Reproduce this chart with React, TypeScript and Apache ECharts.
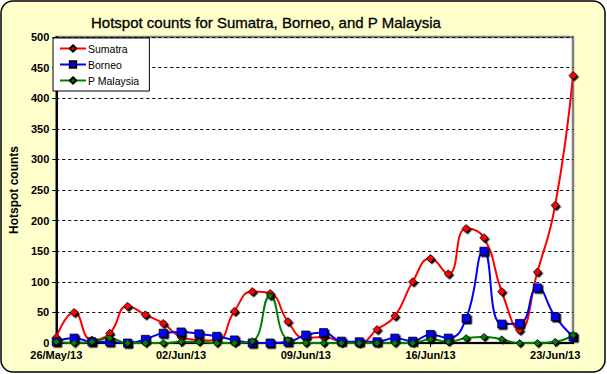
import React, { useEffect, useRef } from "react";
import * as echarts from "echarts";

const dates = [
  "26/May/13", "27/May/13", "28/May/13", "29/May/13", "30/May/13", "31/May/13",
  "01/Jun/13", "02/Jun/13", "03/Jun/13", "04/Jun/13", "05/Jun/13", "06/Jun/13",
  "07/Jun/13", "08/Jun/13", "09/Jun/13", "10/Jun/13", "11/Jun/13", "12/Jun/13",
  "13/Jun/13", "14/Jun/13", "15/Jun/13", "16/Jun/13", "17/Jun/13", "18/Jun/13",
  "19/Jun/13", "20/Jun/13", "21/Jun/13", "22/Jun/13", "23/Jun/13", "24/Jun/13",
];

const sumatra = [9, 50, 5, 16, 60, 46, 32, 10, 5, 4, 52, 84, 81, 35, 8, 10, 2, 0, 22, 44, 100, 138, 113, 187, 172, 84, 21, 116, 225, 437];
const borneo = [2, 8, 2, 2, 0, 6, 16, 18, 15, 11, 5, 0, 0, 2, 13, 17, 3, 2, 2, 8, 3, 14, 8, 40, 150, 31, 32, 90, 43, 10];
const pMalaysia = [2, 0, 2, 8, 0, 0, 0, 2, 2, 0, 0, 3, 77, 5, 0, 0, 0, 0, 0, 0, 0, 6, 2, 8, 10, 6, 0, 0, 2, 13];

const FONT = "Arial, 'Liberation Sans', sans-serif";

export default function App() {
  const ref = useRef<HTMLDivElement>(null);

  useEffect(() => {
    document.body.style.margin = "0";
    if (!ref.current) return;
    const chart = echarts.init(ref.current, null, { renderer: "svg" });
    const mk = (name: string, data: number[], color: string, symbol: string, size: number) => ({
      name,
      type: "line",
      data,
      smooth: 0.5,
      symbol,
      symbolSize: size,
      showSymbol: true,
      lineStyle: { color, width: 2 },
      itemStyle: {
        color,
        borderColor: "#000",
        borderWidth: 0.8,
        shadowColor: "#000",
        shadowBlur: 0,
        shadowOffsetX: 1.5,
        shadowOffsetY: 1.5,
      },
      emphasis: { disabled: true },
    });
    chart.setOption({
      animation: false,
      backgroundColor: "transparent",
      graphic: [
        {
          type: "rect",
          z: -100,
          shape: { x: 1, y: 1, width: 604, height: 371, r: 12 },
          style: { fill: "#FFFFCC", stroke: "#000", lineWidth: 1.5 },
        },
      ],
      title: {
        text: "Hotspot counts for Sumatra, Borneo, and P Malaysia",
        left: 86,
        top: 10,
        textStyle: { fontFamily: FONT, fontSize: 15, fontWeight: "normal", color: "#000", textBorderColor: "#000", textBorderWidth: 0.3 },
      },
      legend: {
        orient: "vertical",
        left: 53,
        top: 38,
        width: 94,
        itemWidth: 26,
        itemHeight: 8,
        itemGap: 5,
        padding: [5, 10, 5, 6],
        backgroundColor: "#fff",
        borderColor: "#000",
        borderWidth: 1,
        borderRadius: 0,
        textStyle: { fontFamily: FONT, fontSize: 10.5, color: "#000", padding: [0, 0, 0, -3] },
        data: ["Sumatra", "Borneo", "P Malaysia"],
      },
      grid: {
        left: 49,
        right: 34,
        top: 37,
        bottom: 31,
        show: true,
        backgroundColor: "#fff",
        borderColor: "#808080",
        borderWidth: 2.5,
      },
      xAxis: {
        type: "category",
        data: dates,
        boundaryGap: false,
        axisLine: { lineStyle: { color: "#000", width: 2 } },
        axisTick: { interval: 6, length: 4, lineStyle: { color: "#000" } },
        axisLabel: {
          interval: 6,
          fontFamily: FONT,
          fontSize: 11,
          fontWeight: "bold",
          color: "#000",
          margin: 6,
        },
        splitLine: { show: false },
      },
      yAxis: {
        type: "value",
        min: 0,
        max: 500,
        interval: 50,
        name: "Hotspot counts",
        nameLocation: "middle",
        nameGap: 29,
        nameTextStyle: { fontFamily: FONT, fontSize: 12, fontWeight: "bold", color: "#000" },
        axisLine: { show: true, lineStyle: { color: "#000", width: 2 } },
        axisTick: { show: true, length: 4, lineStyle: { color: "#000" } },
        axisLabel: { fontFamily: FONT, fontSize: 11, fontWeight: "bold", color: "#000", margin: 7 },
        splitLine: { show: true, lineStyle: { color: "#000", type: [3, 3], width: 1 } },
      },
      series: [
        mk("Sumatra", sumatra, "#FF0000", "diamond", 8),
        mk("Borneo", borneo, "#0000FF", "rect", 8),
        mk("P Malaysia", pMalaysia, "#008000", "diamond", 7),
      ],
    });
    return () => chart.dispose();
  }, []);

  return <div ref={ref} style={{ width: 607, height: 374 }} />;
}
